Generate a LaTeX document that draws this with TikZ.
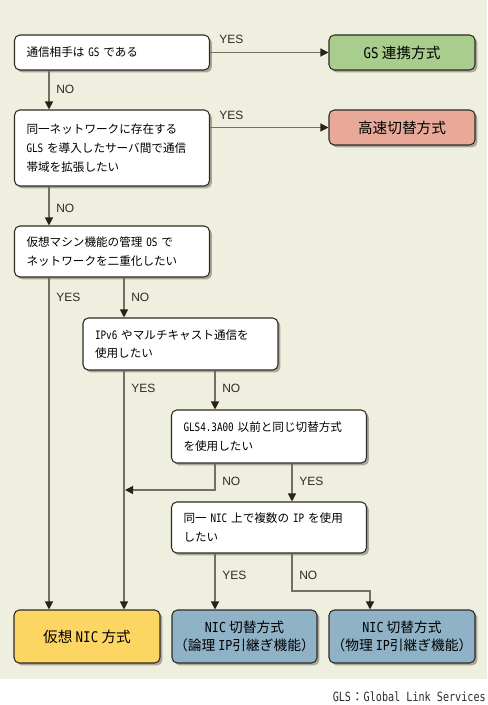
\documentclass[tikz,border=0pt]{standalone}
\usepackage{fontspec}
\setmainfont{Noto Sans CJK JP}
\newfontfamily\lt[FakeStretch=0.8]{DejaVu Sans Mono}
\newfontfamily\ltw[FakeStretch=0.85]{DejaVu Sans Mono}
\newfontfamily\lbf{Liberation Sans}
\usetikzlibrary{arrows.meta,shadows,calc}
\definecolor{bg}{HTML}{EFEFDF}
\definecolor{bordc}{HTML}{2F2A26}
\definecolor{shadc}{HTML}{A9A797}
\definecolor{linec}{HTML}{756E62}
\definecolor{arrc}{HTML}{2A201C}
\definecolor{labc}{HTML}{2E2A28}
\definecolor{gsc}{HTML}{A9CD8C}
\definecolor{redc}{HTML}{E8A999}
\definecolor{yelc}{HTML}{FDD563}
\definecolor{bluc}{HTML}{8FB2C6}
\tikzset{
  box/.style={draw=bordc, line width=0.8pt, rounded corners=4pt, fill=white,
    drop shadow={shadow xshift=1.8pt, shadow yshift=-1.8pt, fill=shadc, opacity=1}, inner ysep=0pt},
  dbox/.style={box, text width=128.25pt, align=left, inner xsep=9pt,
    font=\fontsize{8.7}{14}\selectfont},
  rbox/.style={box, minimum width=109.5pt, minimum height=39.75pt, align=center, inner xsep=0pt,
    font=\fontsize{11}{13.5}\selectfont},
  conn/.style={draw=linec, line width=0.9pt, -{Triangle[length=6pt,width=6pt,color=arrc]}},
  lbl/.style={font=\fontsize{9}{9}\selectfont\lbf, text=labc, anchor=west, inner sep=0pt}
}
\begin{document}
\begin{tikzpicture}[x=0.75pt,y=-0.75pt]
\useasboundingbox (0,0) rectangle (487,705);
\fill[bg] (0,0) rectangle (487,679);

% decision boxes
\node[dbox, minimum height=26.25pt] (q1) at (112,52.5) {通信相手は {\lt GS} である};
\node[dbox, minimum height=57pt] (q2) at (112,148) {同一ネットワークに存在する\\{\lt GLS} を導入したサーバ間で通信\\帯域を拡張したい};
\node[dbox, minimum height=38.25pt] (q3) at (112,251.5) {仮想マシン機能の管理 {\lt OS} で\\ネットワークを二重化したい};
\node[dbox, minimum height=39pt] (q4) at (180.5,344) {{\lt IPv6} やマルチキャスト通信を\\使用したい};
\node[dbox, minimum height=39.75pt] (q5) at (269,436.5) {{\lt GLS4.3A00} 以前と同じ切替方式\\を使用したい};
\node[dbox, minimum height=38.25pt] (q6) at (269,527.5) {同一 {\lt NIC} 上で複数の {\lt IP} を使用\\したい};

% result boxes
\node[rbox, fill=gsc, minimum height=26.25pt] (r1) at (402,52.5) {{\ltw GS} 連携方式};
\node[rbox, fill=redc, minimum height=26.25pt] (r2) at (402,127.5) {高速切替方式};
\node[rbox, fill=yelc] (r3) at (87,636.5) {仮想 {\ltw NIC} 方式};
\node[rbox, fill=bluc, minimum width=108.75pt, font=\fontsize{10.3}{13.5}\selectfont] (r4) at (244.5,636.5)
  {{\ltw NIC} 切替方式\\\hbox{\kern-.5em（論理 {\ltw IP}引継ぎ機能）\kern-.5em}};
\node[rbox, fill=bluc, font=\fontsize{10.3}{13.5}\selectfont] (r5) at (402,636.5)
  {{\ltw NIC} 切替方式\\\hbox{\kern-.5em（物理 {\ltw IP}引継ぎ機能）\kern-.5em}};

% columns
\coordinate (cA) at (49,0);
\coordinate (cB) at (124,0);
\coordinate (cC) at (215,0);
\coordinate (cD) at (292,0);
\coordinate (cE) at (370,0);
\coordinate (j1) at (125,490);
\coordinate (j2) at (370,591);

% connectors
\draw[conn] (q1.east) -- (r1.west);
\draw[conn] (q1.south -| cA) -- (q2.north -| cA);
\draw[conn] (q2.east |- r2.west) -- (r2.west);
\draw[conn] (q2.south -| cA) -- (q3.north -| cA);
\draw[conn] (q3.south -| cA) -- (r3.north -| cA);
\draw[conn] (q3.south -| cB) -- (q4.north -| cB);
\draw[conn] (q4.south -| cB) -- (r3.north -| cB);
\draw[conn] (q4.south -| cC) -- (q5.north -| cC);
\draw[conn] (q5.south -| cC) |- (j1);
\draw[conn] (q5.south -| cD) -- (q6.north -| cD);
\draw[conn] (q6.south -| cC) -- (r4.north -| cC);
\draw[conn] (q6.south -| cD) |- (j2) -- (r5.north -| j2);

% labels
\node[lbl] (l1) at (219,39) {YES};
\node[lbl] (l2) at (56,89) {NO};
\node[lbl] (l3) at (219,115) {YES};
\node[lbl] (l4) at (56,208) {NO};
\node[lbl] (l5) at (56,297) {YES};
\node[lbl] (l6) at (131,297) {NO};
\node[lbl] (l7) at (131,388) {YES};
\node[lbl] (l8) at (222,388) {NO};
\node[lbl] (l9) at (222,481) {NO};
\node[lbl] (l10) at (299,481) {YES};
\node[lbl] (l11) at (222,575) {YES};
\node[lbl] (l12) at (299,575) {NO};

% footnote
\node[anchor=east, inner sep=0pt, font=\fontsize{9.5}{10}\selectfont\lt, text=labc] (fn) at (486,697)
  {GLS{\normalfont ：}Global Link Services};
\end{tikzpicture}
\end{document}
